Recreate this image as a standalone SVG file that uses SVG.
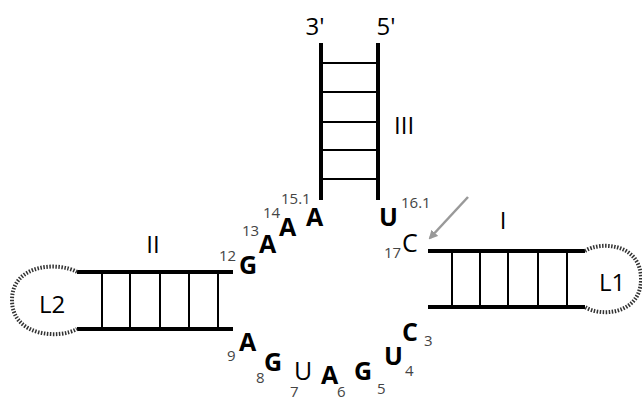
<svg xmlns="http://www.w3.org/2000/svg" width="642" height="401" viewBox="0 0 642 401">
<style>
.strand{stroke:#000;stroke-width:4;fill:none}
.rung{stroke:#000;stroke-width:2;fill:none}
.loop{stroke:#333;stroke-width:4;fill:none;stroke-dasharray:1.5 1.5}
text{font-family:"Open Sans","Liberation Sans",sans-serif;fill:#000}
.b{font-weight:bold;font-size:25px}
.r{font-size:25px}
.n{font-size:15px;fill:#444}
.lab{font-size:24px}
</style>
<defs>
<marker id="ah" markerWidth="9" markerHeight="9" refX="7" refY="4.5" orient="auto" markerUnits="userSpaceOnUse">
<path d="M0,0 L9,4.5 L0,9 Z" fill="#999"/>
</marker>
</defs>
<rect width="642" height="401" fill="#fff"/>
<g id="helixIII">
<path class="strand" d="M321,43 V200 M378,43 V200"/>
<path class="rung" d="M321,63 H378 M321,92 H378 M321,122 H378 M321,150 H378 M321,179 H378"/>
<text class="lab" x="315" y="35" text-anchor="middle">3'</text>
<text class="lab" x="386" y="35" text-anchor="middle">5'</text>
<text class="lab" x="394" y="134">III</text>
</g>
<g id="helixII">
<path class="strand" d="M77,272 H233 M77,329 H233"/>
<path class="rung" d="M102,272 V329 M130,272 V329 M160,272 V329 M189,272 V329 M218,272 V329"/>
<text class="lab" x="153" y="253" text-anchor="middle">II</text>
</g>
<g id="loopL2">
<path class="loop" d="M77,272 C60,262 12,263 12,300 C12,337 60,339 77,329"/>
<text class="lab" x="52" y="313" text-anchor="middle">L2</text>
</g>
<g id="helixI">
<path class="strand" d="M428,251 H585 M428,307 H585"/>
<path class="rung" d="M452,251 V307 M480,251 V307 M508,251 V307 M538,251 V307 M567,251 V307"/>
<text class="lab" x="503" y="229" text-anchor="middle">I</text>
</g>
<g id="loopL1">
<path class="loop" d="M585,251 C600,241 641,243 641,279 C641,315 600,317 585,307"/>
<text class="lab" x="612" y="291" text-anchor="middle">L1</text>
</g>
<g id="J23">
<text class="b" x="239" y="274">G</text><text class="n" x="219" y="261">12</text>
<text class="b" x="259" y="253">A</text><text class="n" x="242" y="236">13</text>
<text class="b" x="279" y="236">A</text><text class="n" x="263" y="218">14</text>
<text class="b" x="306" y="226">A</text><text class="n" x="281" y="204">15.1</text>
<text class="b" x="379" y="226">U</text><text class="n" x="401" y="208">16.1</text>
<text class="r" x="402" y="252">C</text><text class="n" x="384" y="258">17</text>
</g>
<g id="J12">
<text class="b" x="239" y="351">A</text><text class="n" x="227" y="361">9</text>
<text class="b" x="264" y="371">G</text><text class="n" x="256" y="383">8</text>
<text class="r" x="294" y="380">U</text><text class="n" x="290" y="397">7</text>
<text class="b" x="321" y="384">A</text><text class="n" x="337" y="397">6</text>
<text class="b" x="354" y="380">G</text><text class="n" x="377" y="394">5</text>
<text class="b" x="384" y="365">U</text><text class="n" x="405" y="376">4</text>
<text class="b" x="402" y="341">C</text><text class="n" x="424" y="346">3</text>
</g>
<g id="connectors">
<line x1="468" y1="197" x2="430" y2="238" stroke="#999" stroke-width="2.5" marker-end="url(#ah)"/>
</g>
</svg>
